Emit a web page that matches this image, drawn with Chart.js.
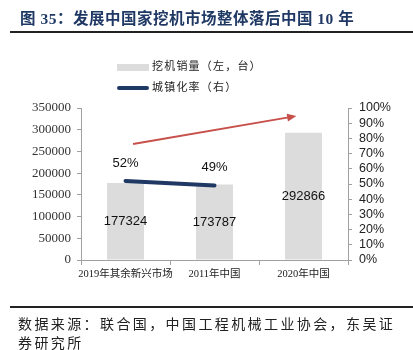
<!DOCTYPE html>
<html>
<head>
<meta charset="utf-8">
<script src="https://cdn.jsdelivr.net/npm/chart.js@4.4.1/dist/chart.umd.min.js"></script>
<style>
  body { margin: 0; background: #fff; }
  #wrap { position: relative; width: 413px; height: 350px; overflow: hidden; }
  #myChart { position: absolute; left: 0; top: 0; }
  .title {
    position: absolute; left: 20px; top: 6px;
    font: bold 15.5px "Liberation Serif", "Noto Sans CJK SC", serif;
    color: #1f3864; white-space: nowrap; letter-spacing: 0.5px;
  }
  .rule { position: absolute; left: 10px; right: 0; height: 2px; background: #222; }
  .legend {
    position: absolute; left: 117px;
    font: 11px "Liberation Serif", "Noto Sans CJK SC", serif; color: #222;
    letter-spacing: 1.2px; white-space: nowrap;
  }
  .legend i { display: inline-block; width: 32px; vertical-align: middle; margin-right: 3px; }
  .src {
    position: absolute; left: 18px;
    font: 14px "Liberation Serif", "Noto Sans CJK SC", serif; color: #222;
    letter-spacing: 2.4px; white-space: nowrap;
  }
</style>
</head>
<body>
<div id="wrap">
  <canvas id="myChart" width="413" height="350"></canvas>
  <div class="title">图 35：发展中国家挖机市场整体落后中国 10 年</div>
  <div class="rule" style="top:31px"></div>
  <div class="legend" style="top:57px"><i style="height:7px;background:#dcdcdc"></i>挖机销量（左，台）</div>
  <div class="legend" style="top:78px"><i style="height:4px;border-radius:2px;background:#1f3864"></i>城镇化率（右）</div>
  <div class="rule" style="top:306px"></div>
  <div class="src" style="top:313px">数据来源：联合国，中国工程机械工业协会，东吴证</div>
  <div class="src" style="top:332px">券研究所</div>
</div>
<script>
// categories and values
const labels = ['2019年其余新兴市场', '2011年中国', '2020年中国'];
const sales = [177324, 173787, 292866];      // 挖机销量（台）
const urbanRate = [52, 49, null];            // 城镇化率（%）
const salesTicks = [0, 350000, 50000];       // min, max, step
const rateTicks = [0, 100, 10];

// trend arrow, in category index / left-axis units
const arrowFrom = [0.085, 267000];
const arrowTo = [1.92, 331500];

const axisColor = '#a0a0a0';

const valueLabels = {
  id: 'valueLabels',
  afterDatasetsDraw(chart) {
    const ctx = chart.ctx;
    ctx.save();
    ctx.fillStyle = '#111';
    ctx.font = '13px "Liberation Sans", Arial, sans-serif';
    ctx.textAlign = 'center';
    ctx.textBaseline = 'middle';
    chart.getDatasetMeta(0).data.forEach((bar, i) => {
      ctx.fillText(sales[i], bar.x, (bar.y + bar.base) / 2);
    });
    chart.getDatasetMeta(1).data.forEach((pt, i) => {
      if (urbanRate[i] == null) return;
      ctx.fillText(urbanRate[i] + '%', pt.x, pt.y - 18);
    });
    ctx.restore();
  }
};

const trendArrow = {
  id: 'trendArrow',
  afterDraw(chart) {
    const x = chart.scales.x, y = chart.scales.y;
    const x0 = x.getPixelForValue(arrowFrom[0]), y0 = y.getPixelForValue(arrowFrom[1]);
    const x1 = x.getPixelForValue(arrowTo[0]), y1 = y.getPixelForValue(arrowTo[1]);
    const ang = Math.atan2(y1 - y0, x1 - x0);
    const head = 10;
    const ctx = chart.ctx;
    ctx.save();
    ctx.strokeStyle = '#c8504b';
    ctx.fillStyle = '#c8504b';
    ctx.lineWidth = 2;
    ctx.beginPath();
    ctx.moveTo(x0, y0);
    ctx.lineTo(x1 - head * 0.8 * Math.cos(ang), y1 - head * 0.8 * Math.sin(ang));
    ctx.stroke();
    ctx.beginPath();
    ctx.moveTo(x1, y1);
    ctx.lineTo(x1 - head * Math.cos(ang - 0.4), y1 - head * Math.sin(ang - 0.4));
    ctx.lineTo(x1 - head * Math.cos(ang + 0.4), y1 - head * Math.sin(ang + 0.4));
    ctx.closePath();
    ctx.fill();
    ctx.restore();
  }
};

const data = {
  labels: labels,
  datasets: [
    {
      type: 'bar',
      label: '挖机销量（左，台）',
      data: sales,
      yAxisID: 'y',
      backgroundColor: '#dcdcdc',
      categoryPercentage: 1,
      barPercentage: 0.415,
      order: 1
    },
    {
      type: 'line',
      label: '城镇化率（右）',
      data: urbanRate,
      yAxisID: 'y1',
      borderColor: '#1f3864',
      borderWidth: 4,
      borderCapStyle: 'round',
      pointRadius: 0,
      order: 0
    }
  ]
};

const config = {
  data: data,
  options: {
    responsive: false,
    animation: false,
    layout: { padding: { top: 108, left: 0, right: 0, bottom: 0 } },
    plugins: { legend: { display: false }, tooltip: { enabled: false } },
    scales: {
      x: {
        grid: { drawOnChartArea: false, color: axisColor, tickLength: 5 },
        border: { color: axisColor },
        ticks: {
          color: '#222',
          padding: 3,
          autoSkip: false,
          maxRotation: 0,
          minRotation: 0,
          font: { family: '"Liberation Serif", "Noto Sans CJK SC", serif', size: 10.5 }
        },
        afterFit: s => { s.height = 90; }
      },
      y: {
        position: 'left',
        min: salesTicks[0], max: salesTicks[1],
        grid: { drawOnChartArea: false, color: axisColor, tickLength: 4 },
        border: { color: axisColor },
        ticks: {
          stepSize: salesTicks[2],
          autoSkip: false,
          color: '#333',
          padding: 6,
          callback: v => String(v),
          font: { family: '"Liberation Serif", serif', size: 13 }
        },
        afterFit: s => { s.width = 81; }
      },
      y1: {
        position: 'right',
        min: rateTicks[0], max: rateTicks[1],
        grid: { drawOnChartArea: false, color: axisColor, tickLength: 4 },
        border: { color: axisColor },
        ticks: {
          stepSize: rateTicks[2],
          autoSkip: false,
          color: '#222',
          padding: 7,
          callback: v => v + '%',
          font: { family: '"Liberation Sans", Arial, sans-serif', size: 12.5 }
        },
        afterFit: s => { s.width = 65; }
      }
    }
  },
  plugins: [valueLabels, trendArrow]
};

const myChart = new Chart(document.getElementById('myChart'), config);
</script>
</body>
</html>
